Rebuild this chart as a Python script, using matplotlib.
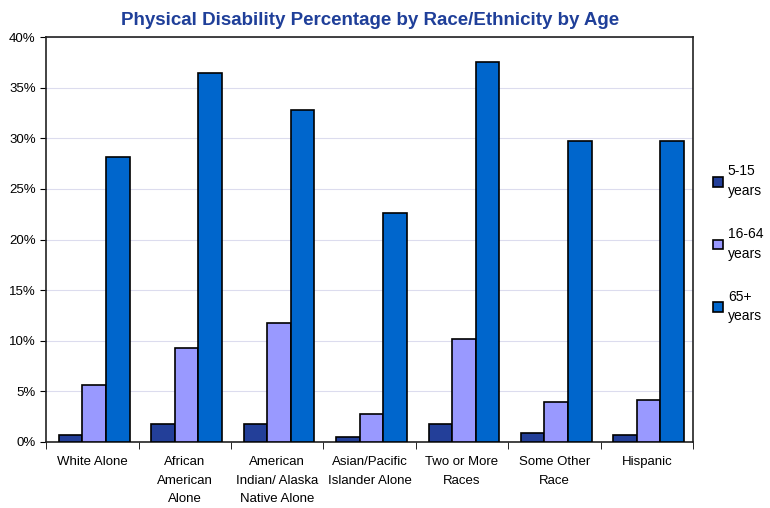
import numpy as np
import matplotlib.pyplot as plt
from matplotlib.ticker import PercentFormatter

plt.rcParams['font.family'] = ['Liberation Sans', 'DejaVu Sans']

categories = ['White Alone', 'African\nAmerican\nAlone', 'American\nIndian/ Alaska\nNative Alone',
              'Asian/Pacific\nIslander Alone', 'Two or More\nRaces', 'Some Other\nRace', 'Hispanic']
age_5_15 = [0.7, 1.8, 1.8, 0.5, 1.8, 0.9, 0.7]
age_16_64 = [5.6, 9.3, 11.8, 2.8, 10.2, 3.9, 4.1]
age_65 = [28.2, 36.5, 32.8, 22.6, 37.5, 29.7, 29.7]
series_labels = ['5-15\nyears', '16-64\nyears', '65+\nyears']
colors = ['#233F99', '#9999FF', '#0066CC']

fig = plt.figure(figsize=(7.7, 5.08), dpi=100)
ax = fig.add_axes([0.06, 0.13, 0.84, 0.797])

x = np.arange(len(categories))
w = 0.255
for i, (vals, lab, c) in enumerate(zip([age_5_15, age_16_64, age_65], series_labels, colors)):
    ax.bar(x + (i - 1) * w + 0.02, vals, width=w, color=c, edgecolor='black', linewidth=1.2,
           label=lab, zorder=3)

ax.set_xlim(-0.5, len(categories) - 0.5)
ax.set_ylim(0, 40)
ax.set_yticks(np.arange(0, 41, 5))
ax.yaxis.set_major_formatter(PercentFormatter(decimals=0))
ax.grid(axis='y', color='#DCDCEE', linewidth=0.8, zorder=0)

ax.set_xticks(x)
ax.set_xticklabels(categories, fontsize=9.5, linespacing=1.75)
ax.tick_params(axis='x', length=0, pad=10)
ax.set_xticks(np.arange(-0.5, len(categories)), minor=True)
ax.tick_params(axis='x', which='minor', length=5, direction='out')
ax.tick_params(axis='y', labelsize=9.5, length=4, direction='out')
for s in ax.spines.values():
    s.set_linewidth(1.2)
    s.set_color('#222222')

ax.set_title('Physical Disability Percentage by Race/Ethnicity by Age',
             fontsize=13.5, fontweight='bold', color='#1F3F99', pad=9)

leg = fig.legend(loc='center left', bbox_to_anchor=(0.91, 0.52), frameon=False,
                 fontsize=10, handlelength=0.7, handleheight=0.7, handletextpad=0.35,
                 labelspacing=2.1)
for t in leg.get_texts():
    t.set_linespacing(1.5)

plt.savefig('out.png', dpi=100)
